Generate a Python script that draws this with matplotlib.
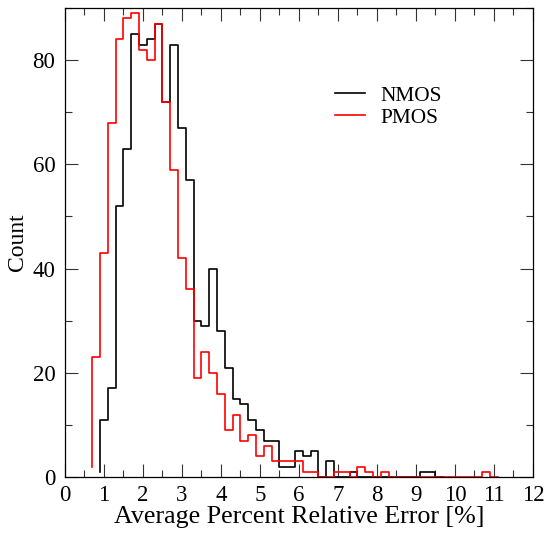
import numpy as np
import matplotlib
matplotlib.use("Agg")
import matplotlib.pyplot as plt
from matplotlib.ticker import MultipleLocator

plt.rcParams['font.family'] = ['Liberation Serif', 'DejaVu Serif']

# histogram data, bin width 0.2
bin_width = 0.2

nmos_first_edge = 0.9
nmos_start = 1
nmos_counts = [11, 17, 52, 63, 85, 83, 84, 87, 72, 83,
               67, 57, 30, 29, 40, 28, 21, 15, 14, 11,
               9, 7, 7, 2, 2, 5, 4, 5, 0, 3,
               0, 0, 1, 0, 0, 0, 0, 0, 0, 0,
               0, 1, 1]

pmos_first_edge = 0.7
pmos_start = 2
pmos_counts = [23, 43, 68, 84, 88, 89, 82, 80, 87, 72,
               59, 42, 36, 19, 24, 20, 16, 9, 12, 7,
               8, 4, 6, 3, 3, 3, 3, 1, 1, 0,
               0, 1, 1, 0, 2, 1, 0, 1, 0, 0,
               0, 0, 0, 0, 0, 0, 0, 0, 0, 0,
               1]

labels = ["NMOS", "PMOS"]
colors = ["black", "red"]


def stair(first_edge, start, counts):
    n = len(counts)
    x = first_edge + bin_width * np.arange(n + 2)
    y = np.array([start] + list(counts) + [0])
    return x, y


fig = plt.figure(figsize=(5.48, 5.36), dpi=100)
ax = fig.add_axes([0.1186, 0.110, 0.854, 0.875])

for (x0, s, c), lab, col in zip([(nmos_first_edge, nmos_start, nmos_counts),
                                 (pmos_first_edge, pmos_start, pmos_counts)],
                                labels, colors):
    x, y = stair(x0, s, c)
    ax.step(x, y, where='pre', color=col, lw=1.2, label=lab)

ax.set_xlim(0, 12)
ax.set_ylim(0, 90)
ax.xaxis.set_major_locator(MultipleLocator(1))
ax.xaxis.set_minor_locator(MultipleLocator(0.5))
ax.yaxis.set_major_locator(MultipleLocator(20))
ax.yaxis.set_minor_locator(MultipleLocator(10))
ax.tick_params(which='both', direction='in', top=True, right=True,
               width=0.8, color='#333333', labelsize=16.5)
ax.tick_params(which='major', length=9.5)
ax.tick_params(which='minor', length=5)
ax.tick_params(axis='y', pad=7)
ax.tick_params(axis='x', pad=6)
for sp in ax.spines.values():
    sp.set_linewidth(0.9)

ax.set_xlabel("Average Percent Relative Error [%]", fontsize=18.7, labelpad=0)
ax.set_ylabel("Count", fontsize=17, labelpad=3)

ax.legend(loc='upper left', bbox_to_anchor=(0.554, 0.857), frameon=False,
          fontsize=15.3, handlelength=1.4, handletextpad=0.75,
          labelspacing=0.1, borderpad=0)

fig.savefig("out.png", dpi=100)
